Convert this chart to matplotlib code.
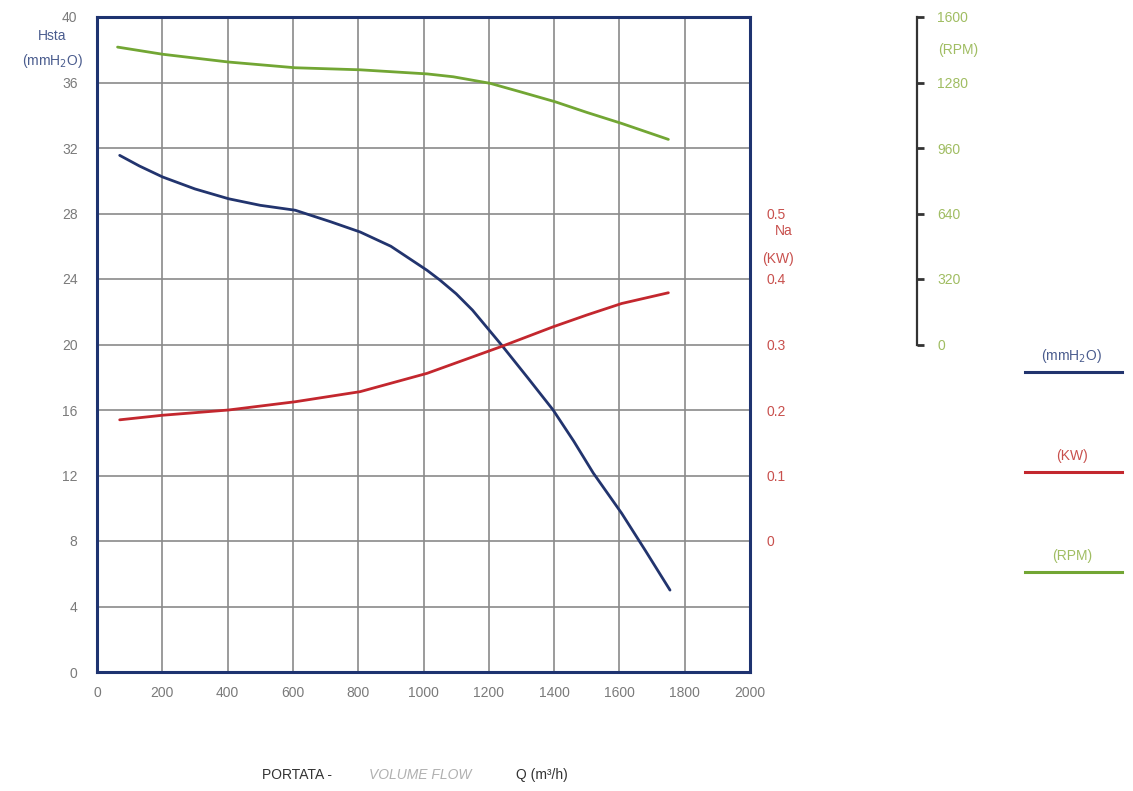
import matplotlib
matplotlib.use("Agg")
import matplotlib.pyplot as plt
from matplotlib.lines import Line2D

plt.rcParams['font.family'] = ['Liberation Sans', 'DejaVu Sans']

# ---- data ----
q_head = [69.5, 130, 201, 300, 403, 500, 607, 715, 806, 900, 1011, 1050, 1100, 1150,
          1239, 1320, 1397, 1460, 1520, 1607, 1680, 1755]
head = [31.55, 30.9, 30.23, 29.5, 28.9, 28.5, 28.2, 27.5, 26.87, 26.0, 24.53,
        23.94, 23.1, 22.1, 19.97, 17.95, 16.0, 14.1, 12.15, 9.69, 7.4, 5.0]

q_power = [69.5, 201, 403, 607, 806, 1011, 1239, 1397, 1500, 1607, 1750]
power = [0.185, 0.192, 0.200, 0.2126, 0.228, 0.256, 0.297, 0.327, 0.345, 0.3626, 0.379]

q_rpm = [63, 201, 403, 607, 806, 1011, 1091, 1204, 1300, 1403, 1500, 1607, 1750]
rpm = [1453, 1418, 1380, 1352, 1342, 1322, 1308, 1276, 1233, 1186, 1134, 1080, 1002]

x_ticks = [0, 200, 400, 600, 800, 1000, 1200, 1400, 1600, 1800, 2000]
head_ticks = [0, 4, 8, 12, 16, 20, 24, 28, 32, 36, 40]
power_ticks = [0, 0.1, 0.2, 0.3, 0.4, 0.5]
power_labels = ['0', '0.1', '0.2', '0.3', '0.4', '0.5']
rpm_ticks = [0, 320, 640, 960, 1280, 1600]

# ---- style ----
NAVY = '#1e3370'
BLUE = '#22346e'
RED = '#c3272e'
GREEN = '#72a634'
GRID = '#8a8a8a'
GRAY_TXT = '#7a7a7a'
RED_TXT = '#c8504d'
GREEN_TXT = '#a0bd62'
BLUE_TXT = '#4a5c8e'

W, H = 1133, 791
fig = plt.figure(figsize=(W / 100, H / 100), dpi=100)
fig.patch.set_facecolor('white')

left, right, top, bottom = 97, 750, 17, 672
ax = fig.add_axes([left / W, 1 - bottom / H, (right - left) / W, (bottom - top) / H])
ax.set_xlim(0, 2000)
ax.set_ylim(0, 40)
ax.set_xticks(x_ticks)
ax.set_yticks(head_ticks)
ax.grid(True, color=GRID, linewidth=1.2)
ax.set_axisbelow(True)
for s in ax.spines.values():
    s.set_color(NAVY)
    s.set_linewidth(2.2)
    s.set_zorder(5)
ax.tick_params(axis='both', length=0, labelsize=10, labelcolor=GRAY_TXT)
ax.tick_params(axis='y', pad=14)
ax.tick_params(axis='x', pad=10)

ax.plot(q_head, head, color=BLUE, linewidth=2, zorder=3, solid_capstyle='round')

# red power axis: 0 at head 8, 0.1 per 4 head units
axp = ax.twinx()
axp.set_ylim(-0.2, 0.8)
axp.set_yticks(power_ticks)
axp.set_yticklabels(power_labels)
for s in axp.spines.values():
    s.set_visible(False)
axp.tick_params(axis='y', length=0, labelsize=10, labelcolor=RED_TXT, pad=12)
axp.plot(q_power, power, color=RED, linewidth=2, zorder=3, solid_capstyle='round')
axp.text((775 - left) / (right - left), (bottom - 231) / (bottom - top), 'Na',
         transform=ax.transAxes, color=RED_TXT, fontsize=10, ha='left', va='center')
axp.text((762 - left) / (right - left), (bottom - 259) / (bottom - top), '(KW)',
         transform=ax.transAxes, color=RED_TXT, fontsize=10, ha='left', va='center')

# green rpm axis: separate spine
axr = ax.twinx()
axr.set_ylim(-1600, 1600)
axr.set_yticks(rpm_ticks)
for name, s in axr.spines.items():
    s.set_visible(name == 'right')
axr.spines['right'].set_position(('axes', (916.5 - left) / (right - left)))
axr.spines['right'].set_bounds(0, 1600)
axr.spines['right'].set_color('#333333')
axr.spines['right'].set_linewidth(1.6)
axr.tick_params(axis='y', length=5, width=2, color='#333333', labelsize=10,
                labelcolor=GREEN_TXT, pad=10)
axr.plot(q_rpm, rpm, color=GREEN, linewidth=2, zorder=3, solid_capstyle='round')
fig.text(938 / W, 1 - 50 / H, '(RPM)', color=GREEN_TXT, fontsize=10, ha='left', va='center')

# left axis title
fig.text(66 / W, 1 - 36 / H, 'Hsta', color=BLUE_TXT, fontsize=10, ha='right', va='center')
fig.text(83 / W, 1 - 61 / H, '(mmH$_2$O)', color=BLUE_TXT, fontsize=10, ha='right', va='center')

# legend on the right
leg_items = [('(mmH$_2$O)', BLUE, BLUE_TXT, 372), ('(KW)', RED, RED_TXT, 472),
             ('(RPM)', GREEN, GREEN_TXT, 572)]
for label, lc, tc, yy in leg_items:
    fig.add_artist(Line2D([1025 / W, 1122 / W], [1 - yy / H, 1 - yy / H],
                          color=lc, linewidth=2.2, transform=fig.transFigure))
    fig.text(1072 / W, 1 - (yy - 16) / H, label, color=tc, fontsize=10,
             ha='center', va='center')

# bottom axis title
ty = 1 - 775 / H
fig.text(262 / W, ty, 'PORTATA -', color='#333333', fontsize=10, ha='left', va='center')
fig.text(369 / W, ty, 'VOLUME FLOW', color='#b0b0b0', fontsize=10, style='italic',
         ha='left', va='center')
fig.text(516 / W, ty, 'Q (m³/h)', color='#333333', fontsize=10, ha='left', va='center')

fig.savefig('out.png', dpi=100, facecolor='white')
